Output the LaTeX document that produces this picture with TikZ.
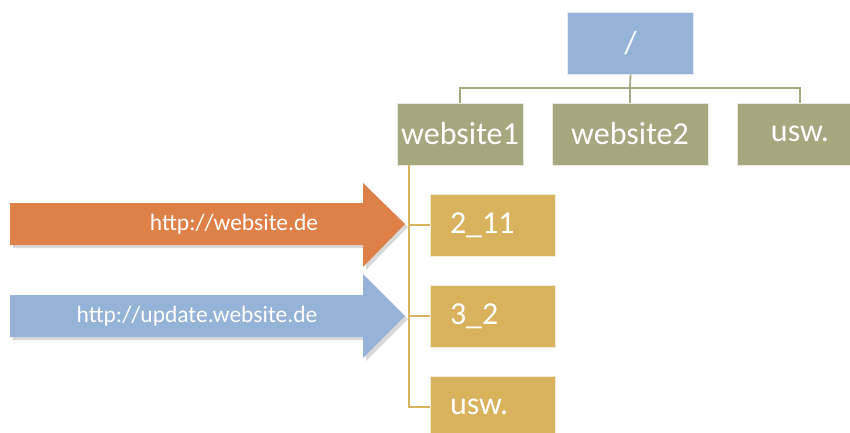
\documentclass[tikz,border=0pt]{standalone}
\usepackage{fontspec}
\setmainfont{Carlito}
\definecolor{cblue}{HTML}{95B3D7}
\definecolor{colive}{HTML}{A5A87F}
\definecolor{cgold}{HTML}{D8B25D}
\definecolor{corange}{HTML}{DE8148}
\begin{document}
\begin{tikzpicture}[x=1pt,y=-1pt,
  box/.style={rectangle, draw=white!75!#1, line width=0.6pt, fill=#1, text=white, font=\fontsize{32}{36}\selectfont, minimum height=62pt, inner sep=0pt, anchor=center},
  leaf/.style={box=cgold, minimum width=125pt, text width=85pt, inner xsep=20pt, align=left},
  olline/.style={draw=colive, line width=1.8pt},
  goline/.style={draw=cgold, line width=1.8pt},
  url/.style={text=white, font=\fontsize{23.5}{26}\selectfont, inner sep=0pt}]
\useasboundingbox (0,0) rectangle (850,432);
% tree nodes
\node[box=cblue, minimum width=126pt] (root) at (630.5,43) {/};
\node[box=colive, minimum width=126pt] (w1) at (460,134) {website1};
\node[box=colive, minimum width=156pt] (w2) at (630,134) {website2};
\node[box=colive, minimum width=126pt] (w3) at (800,134) {usw.};
\node[leaf] (l1) at (492.5,225) {2\_11};
\node[leaf] (l2) at (492.5,316) {3\_2};
\node[leaf] (l3) at (492.5,407) {usw.};
% olive connectors
\coordinate (bus) at (630,88);
\draw[olline] (root.south) -- (bus);
\draw[olline] (w1.north) |- (bus) -| (w3.north);
\draw[olline] (bus) -- (w2.north);
% gold connectors
\coordinate (trunk) at (409,165);
\draw[goline] (trunk) |- (l3.west);
\draw[goline] (trunk |- l1.west) -- (l1.west);
\draw[goline] (trunk |- l2.west) -- (l2.west);
% arrows (shadow + body)
\fill[black, opacity=0.15] (13,206) -- (366,206) -- (366,186) -- (408,227) -- (366,270) -- (366,248) -- (13,248) -- cycle;
\fill[corange] (10,203) -- (363,203) -- (363,183) -- (405,224) -- (363,267) -- (363,245) -- (10,245) -- cycle;
\node[url] (u1) at (234,224) {http://website.de};
\fill[black, opacity=0.15] (13,298) -- (366,298) -- (366,277) -- (408,319) -- (366,361) -- (366,340) -- (13,340) -- cycle;
\fill[cblue] (10,295) -- (363,295) -- (363,274) -- (405,316) -- (363,358) -- (363,337) -- (10,337) -- cycle;
\node[url] (u2) at (197,316) {http://update.website.de};
\end{tikzpicture}
\end{document}
